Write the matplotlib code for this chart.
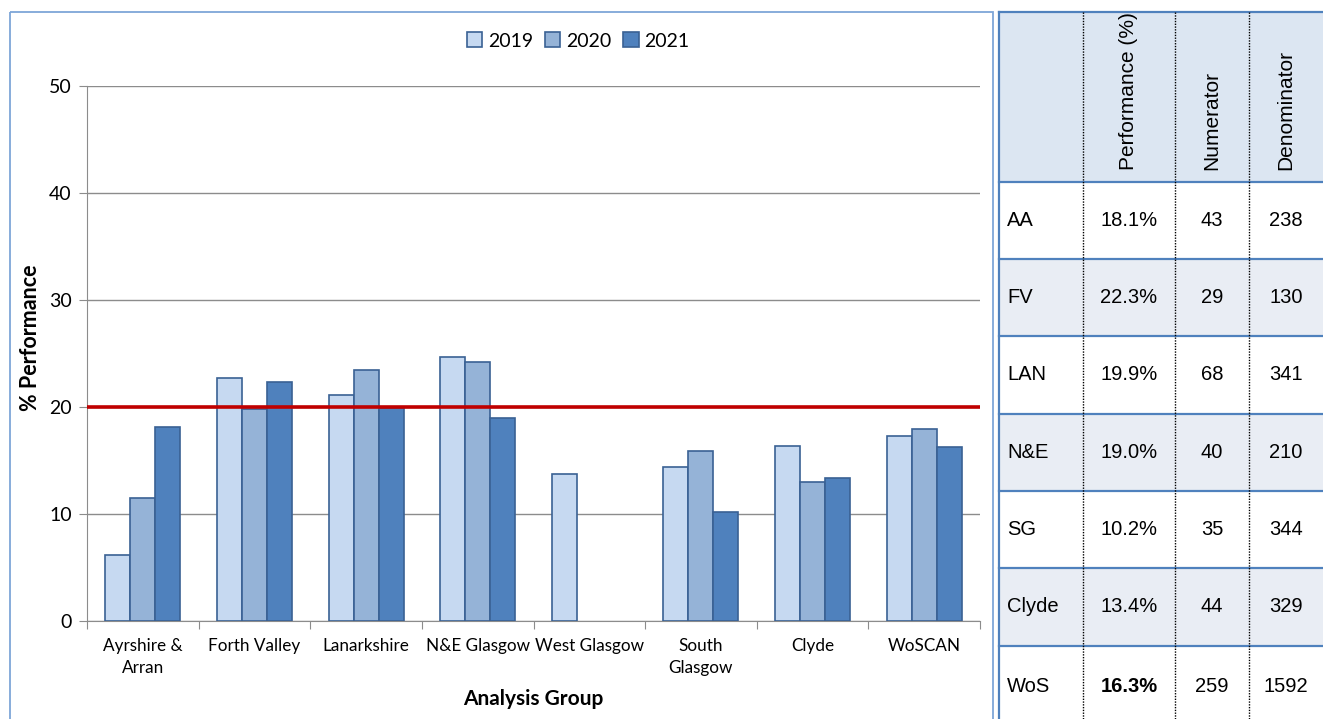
import numpy as np
import matplotlib.pyplot as plt
from matplotlib.patches import Rectangle

groups = ['Ayrshire &\nArran', 'Forth Valley', 'Lanarkshire', 'N&E Glasgow',
          'West Glasgow', 'South\nGlasgow', 'Clyde', 'WoSCAN']
years = ['2019', '2020', '2021']
v2019 = [6.2, 22.7, 21.1, 24.7, 13.7, 14.4, 16.4, 17.3]
v2020 = [11.5, 19.8, 23.5, 24.2, np.nan, 15.9, 13.0, 17.9]
v2021 = [18.1, 22.3, 19.9, 19.0, np.nan, 10.2, 13.4, 16.3]
target = 20

tab_header = ['', 'Performance (%)', 'Numerator', 'Denominator']
tab_rows = ['AA', 'FV', 'LAN', 'N&E', 'SG', 'Clyde', 'WoS']
tab_perf = ['18.1%', '22.3%', '19.9%', '19.0%', '10.2%', '13.4%', '16.3%']
tab_num = ['43', '29', '68', '40', '35', '44', '259']
tab_den = ['238', '130', '341', '210', '344', '329', '1592']

W, H = 1323, 719
fig = plt.figure(figsize=(W / 100, H / 100), dpi=100)
cfont = ['Lato', 'DejaVu Sans']

# background canvas in pixel coords for borders and table
bg = fig.add_axes([0, 0, 1, 1])
bg.set_xlim(0, W)
bg.set_ylim(H, 0)
bg.axis('off')
bg.add_patch(Rectangle((10, 12), 983, 720, fill=False, ec='#7ea6d8', lw=1.3))

# table
cols = [999, 1083, 1175, 1249, 1323]
rows_y = [12, 182, 259, 336, 414, 491, 568, 646, 730]
bg.add_patch(Rectangle((cols[0], rows_y[0]), W - cols[0], rows_y[1] - rows_y[0],
                       fc='#dce6f2', ec='none'))
for i in range(len(tab_rows)):
    if i % 2 == 1:
        bg.add_patch(Rectangle((cols[0], rows_y[i + 1]), W - cols[0],
                               rows_y[i + 2] - rows_y[i + 1], fc='#e9edf4', ec='none'))
for y in rows_y[:-1]:
    bg.plot([cols[0], W], [y, y], color='#4f81bd', lw=1.6)
bg.plot([cols[0], cols[0]], [rows_y[0], H], color='#4f81bd', lw=1.6)
for x in cols[1:4]:
    bg.plot([x, x], [rows_y[0], H], color='black', lw=1.0, ls=(0, (1, 1)))

tfont = 'Liberation Sans'
tsize = 14.5
for j in range(1, 4):
    xc = (cols[j] + cols[j + 1]) / 2
    bg.text(xc, rows_y[1] - 12, tab_header[j], rotation=90, ha='center', va='bottom',
            fontsize=15, family=tfont)
for i, lab in enumerate(tab_rows):
    yc = (rows_y[i + 1] + rows_y[i + 2]) / 2
    if i == len(tab_rows) - 1:
        yc = 686
    bg.text(cols[0] + 8, yc, lab, ha='left', va='center', fontsize=tsize, family=tfont)
    bg.text((cols[1] + cols[2]) / 2, yc, tab_perf[i], ha='center', va='center',
            fontsize=tsize, family=tfont,
            fontweight='bold' if i == len(tab_rows) - 1 else 'normal')
    bg.text((cols[2] + cols[3]) / 2, yc, tab_num[i], ha='center', va='center',
            fontsize=tsize, family=tfont)
    bg.text((cols[3] + cols[4]) / 2, yc, tab_den[i], ha='center', va='center',
            fontsize=tsize, family=tfont)

# chart
ax = fig.add_axes([87 / W, 1 - 621 / H, (980 - 87) / W, (621 - 86) / H])
x = np.arange(len(groups))
w = 0.224
colors = ['#c6d9f1', '#95b3d7', '#4f81bd']
for k, (vals, c) in enumerate(zip([v2019, v2020, v2021], colors)):
    ax.bar(x + (k - 1) * w, vals, w, color=c, edgecolor='#3a6194', lw=1.2,
           label=years[k], zorder=3)
ax.axhline(target, color='#c00000', lw=2.6, zorder=4)

ax.set_xlim(-0.5, len(groups) - 0.5)
ax.set_ylim(0, 50)
ax.set_yticks([0, 10, 20, 30, 40, 50])
ax.yaxis.grid(True, color='#8c8c8c', lw=1)
ax.set_axisbelow(True)
for s in ['top', 'right']:
    ax.spines[s].set_visible(False)
for s in ['left', 'bottom']:
    ax.spines[s].set_color('#8c8c8c')
ax.set_xticks(np.arange(len(groups) + 1) - 0.5)
ax.set_xticklabels([])
ax.set_xticks(x, minor=True)
ax.set_xticklabels(groups, minor=True, family=cfont, fontsize=12.3, linespacing=1.45)
ax.tick_params(axis='x', which='minor', length=0, pad=12)
ax.tick_params(axis='x', which='major', length=6, color='#8c8c8c', direction='out')
ax.tick_params(axis='y', length=6, color='#8c8c8c', labelsize=14, pad=5)
for t in ax.get_yticklabels():
    t.set_family(cfont)
ax.set_ylabel('% Performance', family=cfont, fontsize=15.5, fontweight='bold')
ax.yaxis.set_label_coords(-0.051, 0.53)
ax.set_xlabel('Analysis Group', family=cfont, fontsize=15, fontweight='bold', labelpad=10)
ax.legend(loc='center', bbox_to_anchor=(0.55, 1.084), ncol=3, frameon=False,
          prop={'family': cfont, 'size': 14}, handlelength=0.8, handleheight=0.8,
          handletextpad=0.3, columnspacing=0.6)

fig.savefig('out.png', dpi=100)
